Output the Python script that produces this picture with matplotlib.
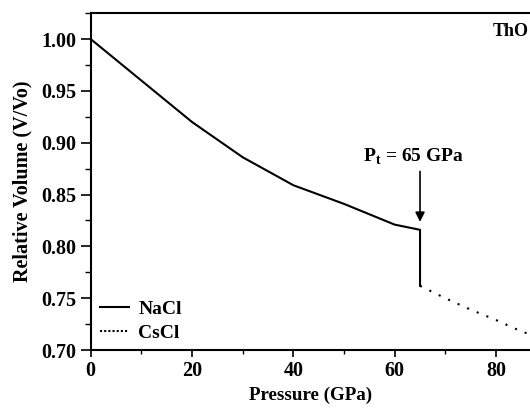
import matplotlib.pyplot as plt
import numpy as np
from matplotlib.ticker import MultipleLocator
from matplotlib.lines import Line2D

plt.rcParams['font.family'] = ['Liberation Serif', 'DejaVu Serif']
plt.rcParams['font.weight'] = 'bold'
plt.rcParams['mathtext.fontset'] = 'custom'
plt.rcParams['mathtext.rm'] = 'Liberation Serif:bold'
plt.rcParams['mathtext.bf'] = 'Liberation Serif:bold'

# NaCl phase (B1), with the volume collapse at the transition
p_nacl = [0, 5, 10, 20, 30, 40, 50, 60, 65, 65]
v_nacl = [1.000, 0.980, 0.960, 0.920, 0.886, 0.859, 0.841, 0.821, 0.816, 0.762]

# CsCl phase (B2)
p_cscl = [65, 70, 75, 80, 85, 90]
v_cscl = [0.762, 0.750, 0.739, 0.729, 0.718, 0.710]

fig = plt.figure(figsize=(5.3, 4.09), dpi=100)
ax = fig.add_axes([0.171, 0.144, 0.829, 0.824])

ax.plot(p_nacl, v_nacl, color='black', lw=1.5)
ax.plot(p_cscl, v_cscl, color='black', lw=1.5, linestyle=(0, (1, 4)))

ax.set_xlim(0, 86.7)
ax.set_ylim(0.70, 1.025)
ax.xaxis.set_major_locator(MultipleLocator(20))
ax.xaxis.set_minor_locator(MultipleLocator(10))
ax.yaxis.set_major_locator(MultipleLocator(0.05))
ax.yaxis.set_minor_locator(MultipleLocator(0.025))
ax.set_yticklabels([f'{t:.2f}' for t in ax.get_yticks()])
ax.tick_params(which='major', length=7, width=1.2, labelsize=14.5)
ax.tick_params(which='minor', length=4, width=1.0)
ax.tick_params(axis='x', which='major', length=5, pad=3)
ax.tick_params(axis='x', which='minor', length=3)
ax.spines['right'].set_visible(False)
for s in ['left', 'bottom', 'top']:
    ax.spines[s].set_linewidth(1.5)

ax.set_xlabel('Pressure (GPa)', fontsize=13.7, fontweight='bold', labelpad=4)
ax.set_ylabel('Relative Volume (V/Vo)', fontsize=14.5, fontweight='bold', labelpad=6)

ax.annotate('', xy=(65, 0.821), xytext=(65, 0.875),
            arrowprops=dict(arrowstyle='-|>', color='black', lw=1.2, mutation_scale=14))
ax.text(63.8, 0.886, 'P$_\\mathrm{t}$ = 65 GPa', ha='center', va='center', fontsize=14, fontweight='bold')
ax.text(86.5, 1.007, 'ThO', ha='right', va='center', fontsize=13, fontweight='bold')

handles = [Line2D([], [], color='black', lw=1.5),
           Line2D([], [], color='black', lw=1.5, linestyle=(0, (1, 1)))]
ax.legend(handles, ['NaCl', 'CsCl'], loc='lower left', bbox_to_anchor=(0.009, 0.006),
          frameon=False, fontsize=14, handlelength=1.45, handletextpad=0.5,
          labelspacing=0.35, borderaxespad=0.0, borderpad=0.3)

plt.savefig('out.png', dpi=100)
